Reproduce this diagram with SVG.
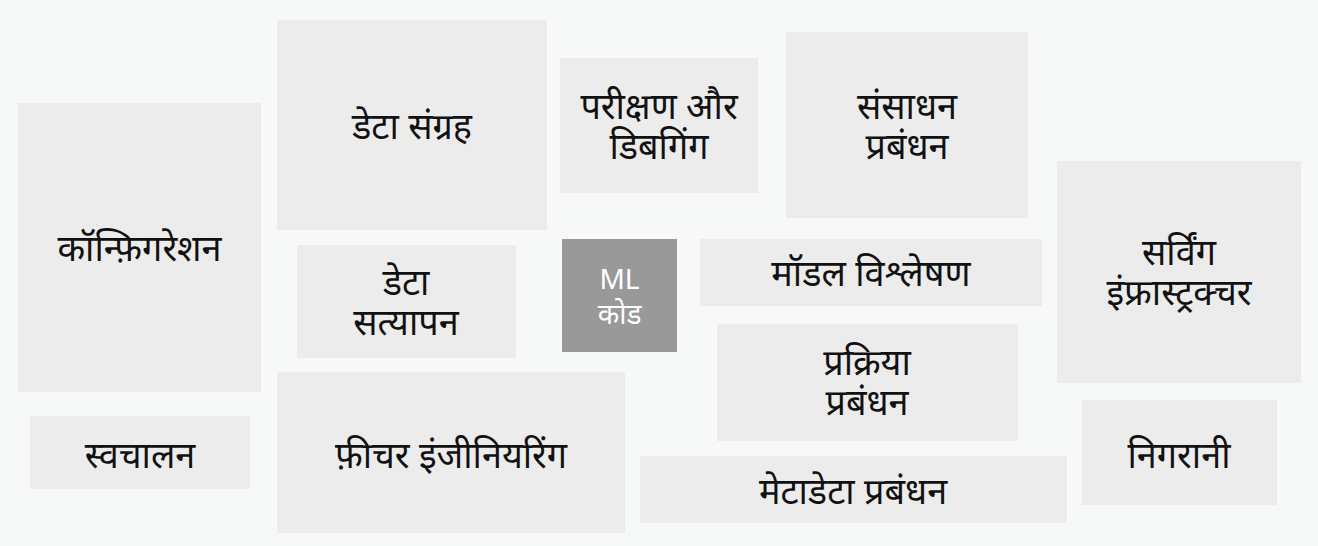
<svg xmlns="http://www.w3.org/2000/svg" width="1318" height="546" viewBox="0 0 1318 546">
<style>
.bg{fill:#f7f8f8}
.box{fill:#ececec}
.core{fill:#999999}
.t{font-family:"Noto Sans","Noto Sans Devanagari",sans-serif;font-size:36px;fill:#111111;text-anchor:middle;dominant-baseline:central}
.tw{font-family:"Noto Sans","Noto Sans Devanagari",sans-serif;font-size:28px;fill:#ffffff;text-anchor:middle;dominant-baseline:central}
</style>
<rect class="bg" x="0" y="0" width="1318" height="546"/>
<g id="connectors"></g>
<g id="configuration"><rect class="box" x="18" y="103" width="243" height="289"/><text class="t" x="139.5" y="247.5">कॉन्फ़िगरेशन</text></g>
<g id="data-collection"><rect class="box" x="277" y="20" width="270" height="210"/><text class="t" x="412" y="125">डेटा संग्रह</text></g>
<g id="testing-debugging"><rect class="box" x="560" y="58" width="198" height="135"/><text class="t" x="659" y="105.5">परीक्षण और</text><text class="t" x="659" y="145.5">डिबगिंग</text></g>
<g id="resource-management"><rect class="box" x="786" y="32" width="242" height="186"/><text class="t" x="907" y="105.5">संसाधन</text><text class="t" x="907" y="145.5">प्रबंधन</text></g>
<g id="serving-infrastructure"><rect class="box" x="1057" y="161" width="244" height="222"/><text class="t" x="1179" y="251.5">सर्विंग</text><text class="t" x="1179" y="291.5">इंफ्रास्ट्रक्चर</text></g>
<g id="data-validation"><rect class="box" x="297" y="245" width="219" height="113"/><text class="t" x="406" y="281.5">डेटा</text><text class="t" x="406" y="321.5">सत्यापन</text></g>
<g id="ml-code"><rect class="core" x="562" y="239" width="115" height="113"/><text class="tw" x="619.5" y="278">ML</text><text class="tw" x="619.5" y="313">कोड</text></g>
<g id="model-analysis"><rect class="box" x="700" y="239" width="342" height="67"/><text class="t" x="871" y="272">मॉडल विश्लेषण</text></g>
<g id="process-management"><rect class="box" x="717" y="324" width="301" height="117"/><text class="t" x="867" y="361.5">प्रक्रिया</text><text class="t" x="867" y="401.5">प्रबंधन</text></g>
<g id="automation"><rect class="box" x="30" y="416" width="220" height="73"/><text class="t" x="140" y="454">स्वचालन</text></g>
<g id="feature-engineering"><rect class="box" x="277" y="372" width="348" height="161"/><text class="t" x="451" y="454">फ़ीचर इंजीनियरिंग</text></g>
<g id="metadata-management"><rect class="box" x="640" y="456" width="427" height="67"/><text class="t" x="853" y="490">मेटाडेटा प्रबंधन</text></g>
<g id="monitoring"><rect class="box" x="1082" y="400" width="195" height="105"/><text class="t" x="1179" y="454">निगरानी</text></g>
</svg>
